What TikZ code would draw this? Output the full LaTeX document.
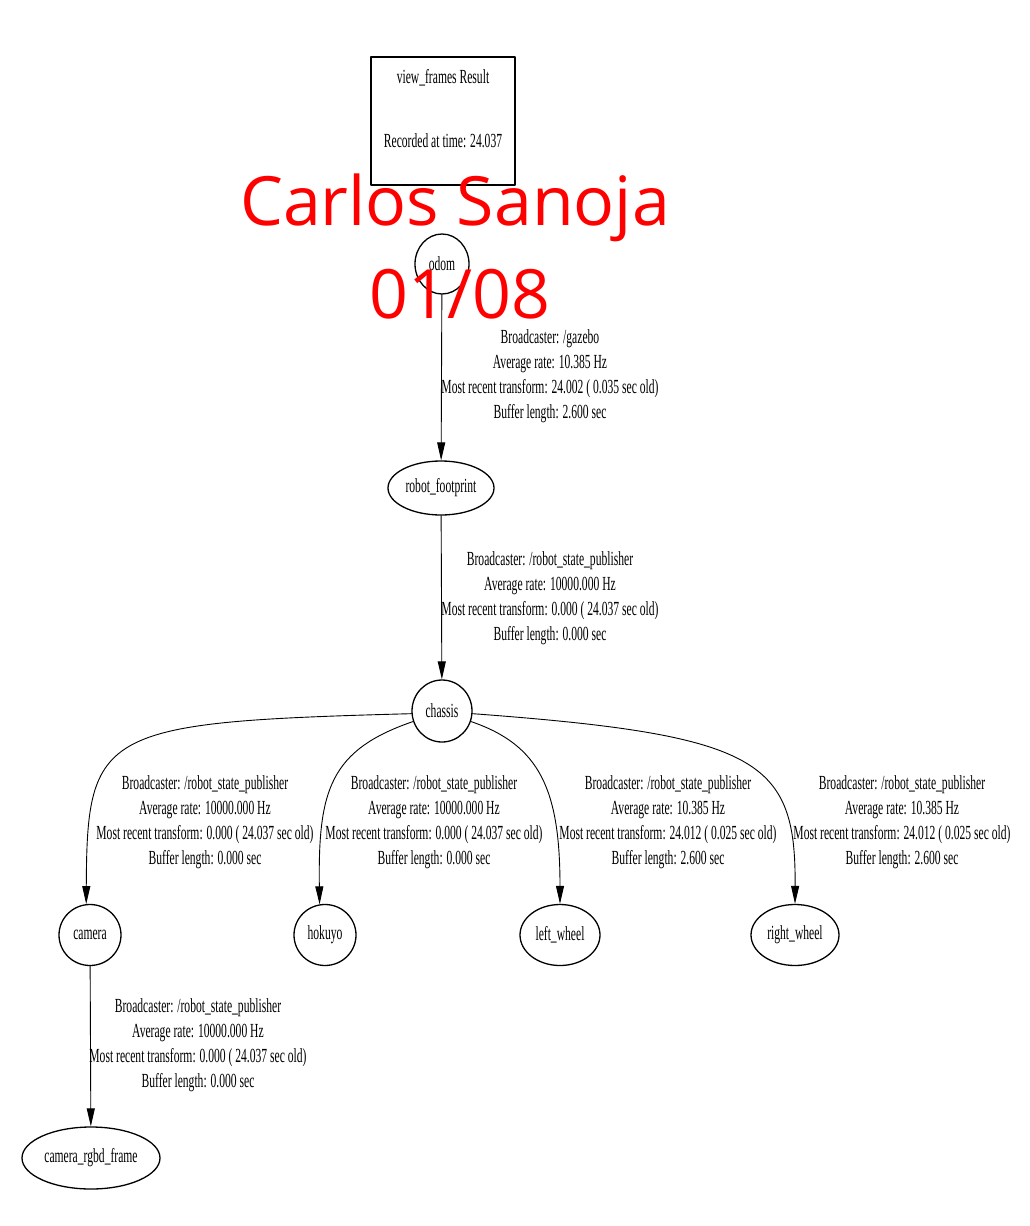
\documentclass[tikz,border=0pt]{standalone}
\usepackage{fontspec}
\usepackage{tikz}
\usetikzlibrary{arrows.meta}
\usetikzlibrary{shapes.geometric}
\newfontfamily\gvfont[FakeStretch=0.58]{Liberation Serif}
\newfontfamily\stampfont{Open Sans}

\begin{document}
\begin{tikzpicture}[x=1pt, y=-1pt, line cap=round, line join=round,
  >={Triangle[length=18pt,width=8pt]},
  frame/.style={ellipse, draw, line width=1.3pt, inner sep=0pt,
    font=\gvfont\fontsize{20}{25}\selectfont},
  info/.style={align=center, inner sep=0pt,
    font=\gvfont\fontsize{20}{25}\selectfont},
  tfedge/.style={->, line width=0.9pt},
  stamp/.style={text=red, inner sep=0pt,
    font=\stampfont\fontsize{68}{80}\selectfont}]
  \useasboundingbox (0,0) rectangle (1030,1226);

  \node[draw, line width=2pt, minimum width=144pt, minimum height=128pt] (result) at (443,121) {};
  \node[info] (resulttext) at (443,109) {view\_frames Result\\[39pt]Recorded at time: 24.037};

  \node[frame, minimum width=54pt, minimum height=60pt] (odom) at (442,264) {odom};
  \node[frame, minimum width=106pt, minimum height=54pt] (footprint) at (441,488) {robot\_footprint};
  \node[frame, minimum width=60pt, minimum height=62pt] (chassis) at (442,711) {chassis};
  \node[frame, minimum width=62pt, minimum height=61pt] (camera) at (90,935) {camera};
  \node[frame, minimum width=62pt, minimum height=61pt] (hokuyo) at (325,935) {hokuyo};
  \node[frame, minimum width=80pt, minimum height=61pt] (leftwheel) at (560,935) {left\_wheel};
  \node[frame, minimum width=88pt, minimum height=61pt] (rightwheel) at (795,935) {right\_wheel};
  \node[frame, minimum width=138pt, minimum height=62pt] (rgbd) at (91,1158) {camera\_rgbd\_frame};

  \draw[tfedge] (odom) -- (footprint);
  \draw[tfedge] (footprint) -- (chassis);
  \draw[tfedge] (chassis.185) .. controls (100,722) and (87,730) .. (camera.97);
  \draw[tfedge] (chassis.200) .. controls (330,750) and (318,790) .. (hokuyo.100);
  \draw[tfedge] (chassis.-20) .. controls (540,745) and (560,790) .. (leftwheel.north);
  \draw[tfedge] (chassis.355) .. controls (760,735) and (796,760) .. (rightwheel.north);
  \draw[tfedge] (camera) -- (rgbd);

  \node[info] (odomlbl) at (550,376) {Broadcaster: /gazebo\\Average rate: 10.385 Hz\\Most recent transform: 24.002 ( 0.035 sec old)\\Buffer length: 2.600 sec};
  \node[info] (footlbl) at (550,598) {Broadcaster: /robot\_state\_publisher\\Average rate: 10000.000 Hz\\Most recent transform: 0.000 ( 24.037 sec old)\\Buffer length: 0.000 sec};
  \node[info] (cameralbl) at (205,822) {Broadcaster: /robot\_state\_publisher\\Average rate: 10000.000 Hz\\Most recent transform: 0.000 ( 24.037 sec old)\\Buffer length: 0.000 sec};
  \node[info] (hokuyolbl) at (434,822) {Broadcaster: /robot\_state\_publisher\\Average rate: 10000.000 Hz\\Most recent transform: 0.000 ( 24.037 sec old)\\Buffer length: 0.000 sec};
  \node[info] (leftlbl) at (668,822) {Broadcaster: /robot\_state\_publisher\\Average rate: 10.385 Hz\\Most recent transform: 24.012 ( 0.025 sec old)\\Buffer length: 2.600 sec};
  \node[info] (rightlbl) at (902,822) {Broadcaster: /robot\_state\_publisher\\Average rate: 10.385 Hz\\Most recent transform: 24.012 ( 0.025 sec old)\\Buffer length: 2.600 sec};
  \node[info] (rgbdlbl) at (198,1045) {Broadcaster: /robot\_state\_publisher\\Average rate: 10000.000 Hz\\Most recent transform: 0.000 ( 24.037 sec old)\\Buffer length: 0.000 sec};

  \node[stamp, anchor=base] (author) at (455,225) {Carlos Sanoja};
  \node[stamp, anchor=base] (date) at (460,318) {01/08};
\end{tikzpicture}
\end{document}
